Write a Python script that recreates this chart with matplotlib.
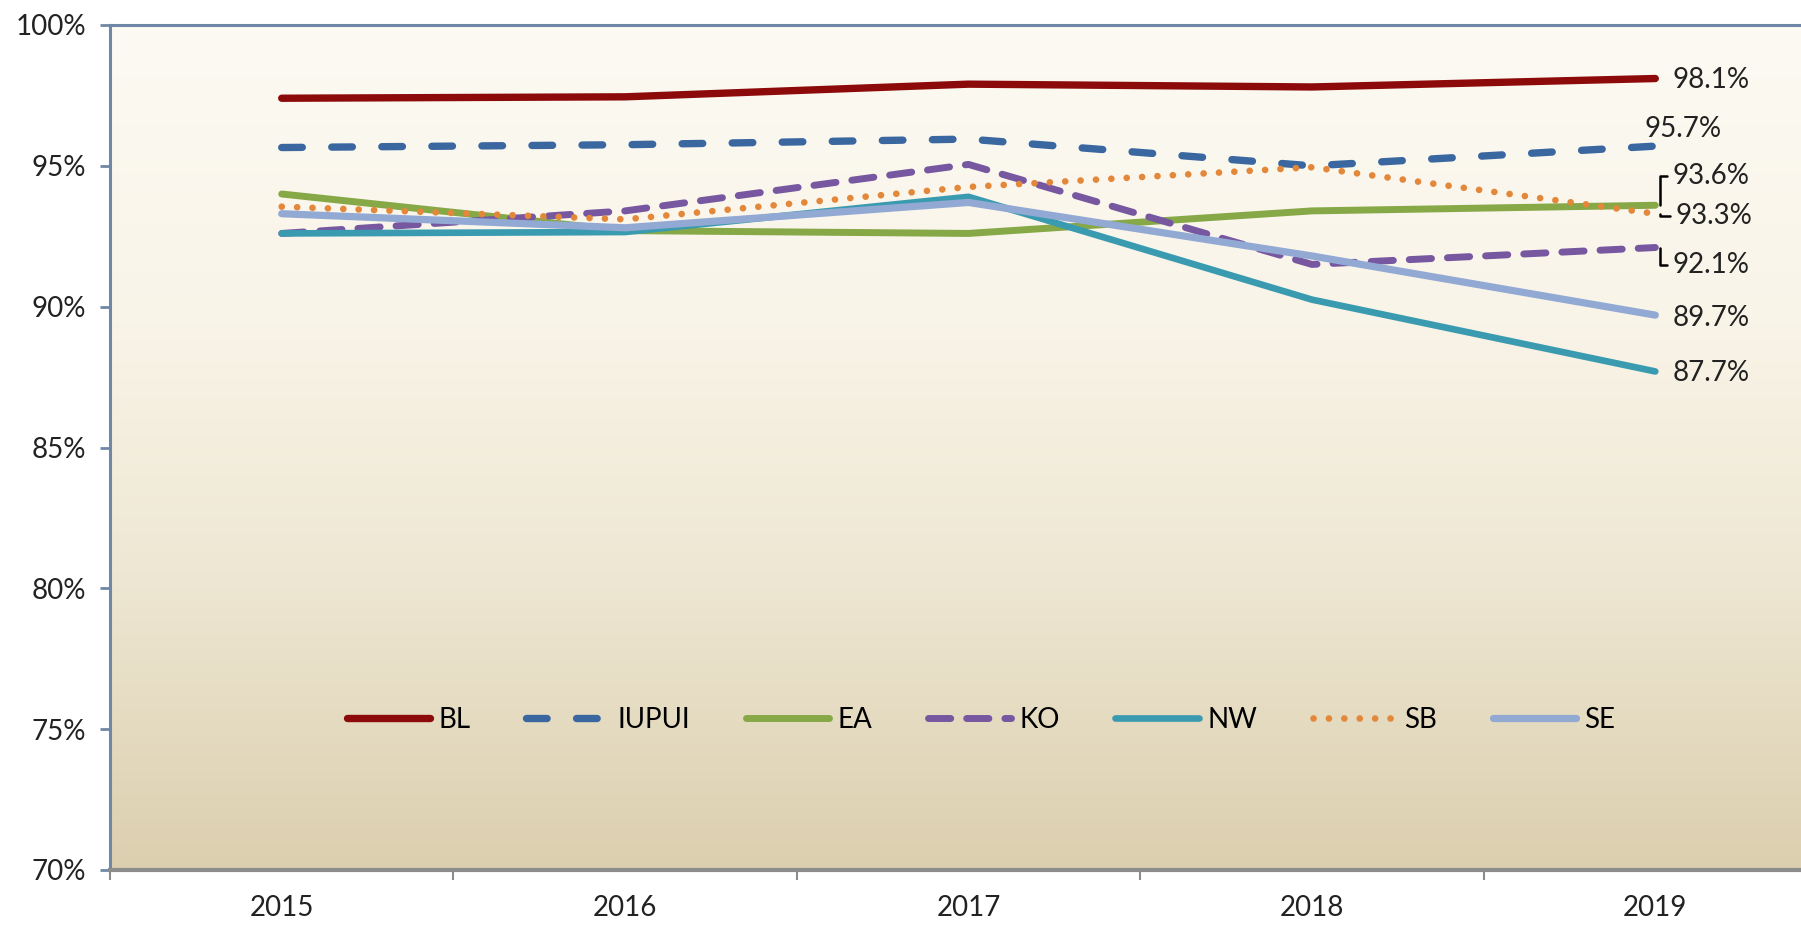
import numpy as np
import matplotlib
matplotlib.use("Agg")
import matplotlib.pyplot as plt
from matplotlib.colors import LinearSegmentedColormap

plt.rcParams['font.family'] = ['Lato', 'DejaVu Sans']

# data
years = ["2015", "2016", "2017", "2018", "2019"]
campuses = ["BL", "IUPUI", "EA", "KO", "NW", "SB", "SE"]
bl = [97.4, 97.45, 97.9, 97.8, 98.1]
iupui = [95.65, 95.75, 95.95, 95.0, 95.7]
ea = [94.0, 92.7, 92.6, 93.4, 93.6]
ko = [92.6, 93.4, 95.05, 91.5, 92.1]
nw = [92.6, 92.65, 93.9, 90.25, 87.7]
sb = [93.55, 93.1, 94.25, 94.95, 93.3]
se = [93.3, 92.8, 93.7, 91.8, 89.7]
series = [bl, iupui, ea, ko, nw, sb, se]

colors = ['#8C0A0A', '#3A67A0', '#86A847', '#7657A0', '#3A9BB0', '#E3883A', '#92A9D3']
widths = [5.3, 5.3, 5.0, 5.0, 4.8, 4.8, 5.2]
dashes = [None, (2.8, 4.0), None, (3.2, 2.3), None, (0.01, 2.3), None]

# end label positions (y of text, x) and leader style, same order as series
label_y = [98.03, 96.32, 94.65, 91.47, 87.64, 93.22, 89.6]
label_x = [4.05, 3.97, 4.05, 4.05, 4.05, 4.06, 4.05]
leader = [None, None, 'up', 'down', None, 'flat', None]

fig = plt.figure(figsize=(18.01, 9.25), dpi=100)
ax = fig.add_axes([110 / 1801, 55 / 925, 1717 / 1801, 845 / 925])

# background gradient
cmap = LinearSegmentedColormap.from_list(
    "bg", [(0.0, '#FCFAF3'), (0.35, '#F9F4E8'), (0.65, '#EEE7D3'), (1.0, '#DCCFAF')])
grad = np.linspace(0, 1, 256).reshape(-1, 1)
ax.imshow(grad, cmap=cmap, aspect='auto', extent=[-0.5, 4.5, 70, 100],
          origin='upper', zorder=0)

x = np.arange(len(years))
for name, vals, c, lw, d in zip(campuses, series, colors, widths, dashes):
    line, = ax.plot(x, vals, color=c, lw=lw, label=name, zorder=3,
                    solid_capstyle='round', dash_capstyle='round',
                    solid_joinstyle='round')
    if d is not None:
        line.set_dashes(d)

for vals, ly, lx, ld in zip(series, label_y, label_x, leader):
    txt = f"{vals[-1]:.1f}%"
    if ld is None:
        ax.text(lx, ly, txt, fontsize=20, color='#222222', va='center', ha='left', zorder=5)
    else:
        ax.annotate(txt, xy=(4.015, vals[-1]), xytext=(lx, ly), textcoords='data',
                    fontsize=20, color='#222222', va='center', ha='left', zorder=5,
                    arrowprops=dict(arrowstyle='-', color='black', lw=1.8,
                                    shrinkA=2, shrinkB=0, relpos=(0, 0.5),
                                    connectionstyle='angle,angleA=0,angleB=90,rad=0'))

ax.set_xlim(-0.5, 4.5)
ax.set_ylim(70, 100)

ax.set_yticks(np.arange(70, 101, 5))
ax.set_yticklabels([f"{v}%" for v in range(70, 101, 5)])
ax.tick_params(axis='y', direction='out', length=7, width=2, color='#7088A8',
               labelsize=20, labelcolor='#222222', pad=10)

ax.set_xticks(np.arange(-0.5, 4.6, 1))
ax.set_xticklabels([])
ax.set_xticks(x, minor=True)
ax.set_xticklabels(years, minor=True)
ax.tick_params(axis='x', which='major', direction='out', length=7, width=1.5, color='#8C8C8C')
ax.tick_params(axis='x', which='minor', length=0, labelsize=20, labelcolor='#222222', pad=18)

for s in ['left', 'top']:
    ax.spines[s].set_color('#7088A8')
    ax.spines[s].set_linewidth(2.2)
ax.spines['bottom'].set_color('#8C8C8C')
ax.spines['bottom'].set_linewidth(3)
ax.spines['right'].set_visible(False)

fig.legend(loc='center', bbox_to_anchor=(981 / 1801, 1 - 720 / 925), ncol=7,
           frameon=False, fontsize=20, handlelength=3.0, handletextpad=0.3,
           columnspacing=2.0)

fig.savefig("out.png", dpi=100)
